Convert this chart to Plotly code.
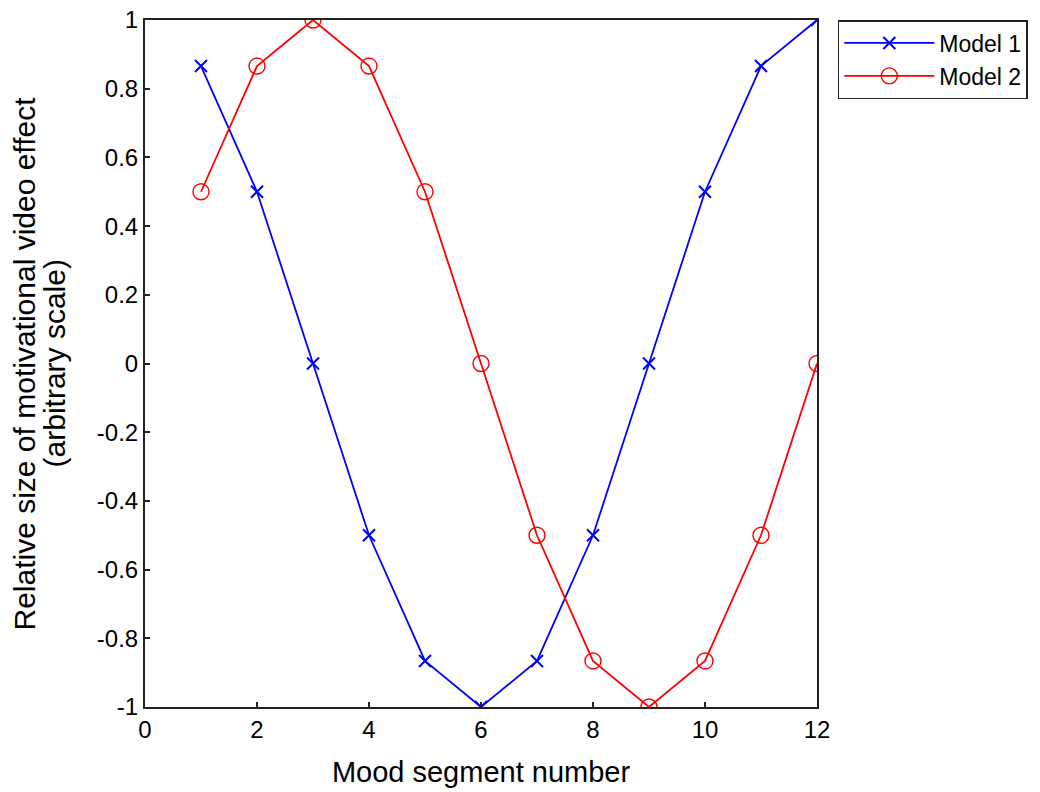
import plotly.graph_objects as go

segments = [1, 2, 3, 4, 5, 6, 7, 8, 9, 10, 11, 12]
model1 = [0.866, 0.5, 0.0, -0.5, -0.866, -1.0, -0.866, -0.5, 0.0, 0.5, 0.866, 1.0]
model2 = [0.5, 0.866, 1.0, 0.866, 0.5, 0.0, -0.5, -0.866, -1.0, -0.866, -0.5, 0.0]
xticks = [0, 2, 4, 6, 8, 10, 12]
yticks = [-1, -0.8, -0.6, -0.4, -0.2, 0, 0.2, 0.4, 0.6, 0.8, 1]
ytick_text = ["-1", "-0.8", "-0.6", "-0.4", "-0.2", "0", "0.2", "0.4", "0.6", "0.8", "1"]
ylabel_lines = ["Relative size of motivational video effect", "(arbitrary scale)"]
xlabel = "Mood segment number"

FONT = "Liberation Sans, Arial, Helvetica, sans-serif"

fig = go.Figure()
fig.add_trace(go.Scatter(
    x=segments, y=model1, mode="lines+markers", name="Model 1",
    line=dict(color="#0000ff", width=1.8),
    marker=dict(symbol="x-thin-open", size=12, color="#0000ff",
                line=dict(color="#0000ff", width=2)),
))
fig.add_trace(go.Scatter(
    x=segments, y=model2, mode="lines+markers", name="Model 2",
    line=dict(color="#ff0000", width=1.8),
    marker=dict(symbol="circle-open", size=16, color="#ff0000",
                line=dict(color="#ff0000", width=1.4)),
))

axis_common = dict(
    showline=True, linecolor="#222222", linewidth=2, mirror=True,
    ticks="inside", ticklen=5, tickcolor="#222222", tickwidth=1.5,
    showgrid=False, zeroline=False, automargin=False,
    ticklabeloverflow="allow",
    tickfont=dict(family=FONT, size=24, color="black"),
)

fig.update_layout(
    width=1040, height=792,
    margin=dict(l=145, r=223, t=20, b=85),
    paper_bgcolor="white", plot_bgcolor="white",
    font=dict(family=FONT, color="black"),
    xaxis=dict(range=[0, 12], tickvals=xticks,
               title=dict(text=xlabel, font=dict(size=29), standoff=20),
               **axis_common),
    yaxis=dict(range=[-1, 1], tickvals=yticks, ticktext=ytick_text,
               **axis_common),
    legend=dict(x=1.031, y=1.0, xanchor="left", yanchor="top",
                bordercolor="#222222", borderwidth=1.5, bgcolor="white",
                font=dict(family=FONT, size=23, color="black"),
                itemwidth=90, tracegroupgap=0),
    showlegend=True,
    annotations=[
        dict(text=ylabel_lines[0], xref="paper", yref="paper", x=-0.180, y=0.5,
             xanchor="center", yanchor="middle", textangle=-90, showarrow=False,
             font=dict(family=FONT, size=30, color="black")),
        dict(text=ylabel_lines[1], xref="paper", yref="paper", x=-0.1340, y=0.5,
             xanchor="center", yanchor="middle", textangle=-90, showarrow=False,
             font=dict(family=FONT, size=30, color="black")),
    ],
)
fig.write_html("out.html",
               config={"displayModeBar": False},
               post_script="document.body.style.margin='0px';document.body.style.overflow='hidden';")
